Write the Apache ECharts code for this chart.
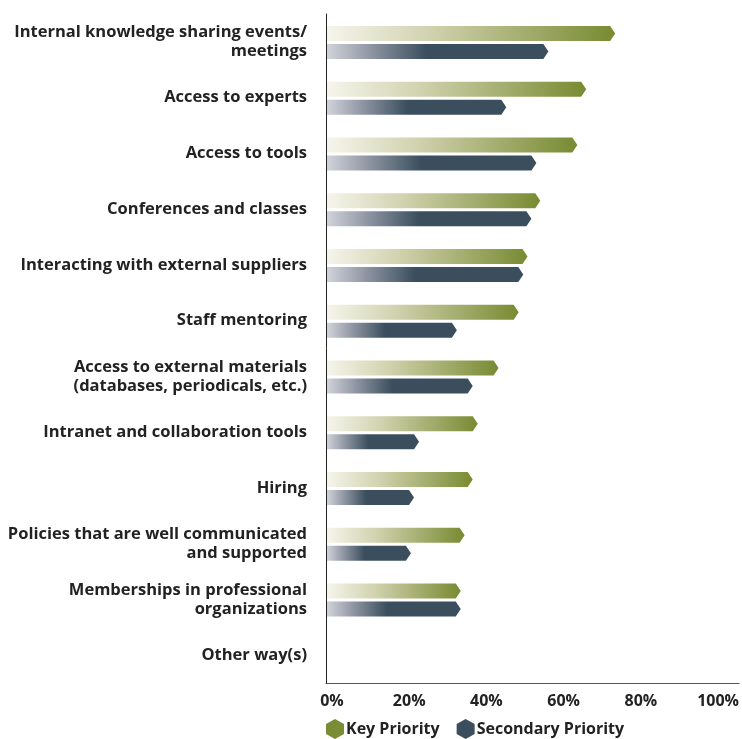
<!DOCTYPE html>
<html>
<head>
<meta charset="utf-8">
<script src="https://cdn.jsdelivr.net/npm/echarts@6/dist/echarts.min.js"></script>
<style>
  html, body { margin: 0; padding: 0; background: #fff; }
  #chart { width: 742px; height: 739px; }
</style>
</head>
<body>
<div id="chart"></div>
<script>
// categories, top to bottom
const categories = [
  "Internal knowledge sharing events/\nmeetings",
  "Access to experts",
  "Access to tools",
  "Conferences and classes",
  "Interacting with external suppliers",
  "Staff mentoring",
  "Access to external materials\n(databases, periodicals, etc.)",
  "Intranet and collaboration tools",
  "Hiring",
  "Policies that are well communicated\nand supported",
  "Memberships in professional\norganizations",
  "Other way(s)"
];
const keyPriority = [74.9, 67.4, 65.1, 55.5, 52.2, 49.9, 44.7, 39.3, 38.0, 35.9, 34.9, 0];
const secondaryPriority = [57.6, 46.7, 54.5, 53.2, 51.1, 33.9, 38.0, 24.1, 22.8, 22.0, 34.9, 0];
const xTicks = [0, 20, 40, 60, 80, 100];

const FONT = "'Open Sans', sans-serif";
const hexIcon = "path://M9,0 L18,5 L18,15 L9,20 L0,15 L0,5 Z";

function chevronBar(offsetTop, height, stops) {
  return function (params, api) {
    const v = api.value(1);
    if (!v) return null;
    const cat = api.value(0);
    const p0 = api.coord([0, cat]);
    const p1 = api.coord([v, cat]);
    const top = p0[1] + offsetTop;
    const bot = top + height;
    const mid = (top + bot) / 2;
    const x0 = p0[0] + 1, x1 = p1[0];
    return {
      type: "polygon",
      shape: {
        points: [[x0, top], [x1 - 5, top], [x1, mid], [x1 - 5, bot], [x0, bot]]
      },
      style: {
        fill: new echarts.graphic.LinearGradient(0, 0, 1, 0, stops)
      }
    };
  };
}

const myChart = echarts.init(document.getElementById("chart"));
myChart.setOption({
  animation: false,
  grid: { left: 326, right: 1, top: 14, bottom: 56 },
  legend: {
    left: 326,
    top: 719,
    padding: 0,
    itemWidth: 18,
    itemHeight: 20,
    itemGap: 17,
    icon: hexIcon,
    textStyle: { fontFamily: FONT, fontWeight: "bold", fontSize: 16, color: "#222", padding: [0, 0, 0, -3] },
    data: ["Key Priority", "Secondary Priority"]
  },
  xAxis: {
    type: "value",
    min: 0,
    max: 107,
    interval: 20,
    axisLine: { show: true, lineStyle: { color: "#555", width: 1 } },
    axisTick: { show: false },
    splitLine: { show: false },
    axisLabel: {
      showMaxLabel: false,
      margin: 10,
      padding: [0, 0, 0, 12],
      fontFamily: FONT,
      fontWeight: "bold",
      fontSize: 16,
      color: "#222",
      formatter: v => (xTicks.indexOf(v) >= 0 ? v + "%" : "")
    }
  },
  yAxis: {
    type: "category",
    data: categories,
    inverse: true,
    axisLine: { show: true, lineStyle: { color: "#222", width: 1 } },
    axisTick: { show: false },
    axisLabel: {
      margin: 19,
      fontFamily: FONT,
      fontWeight: "bold",
      fontSize: 16.5,
      lineHeight: 19,
      color: "#222",
      align: "right"
    }
  },
  series: [
    {
      name: "Key Priority",
      type: "custom",
      itemStyle: { color: "#7a8c35" },
      renderItem: chevronBar(-16, 15, [
        { offset: 0, color: "#f5f5ec" },
        { offset: 0.35, color: "#d2d3b0" },
        { offset: 1, color: "#788a31" }
      ]),
      encode: { x: 1, y: 0 },
      data: keyPriority.map((v, i) => [i, v])
    },
    {
      name: "Secondary Priority",
      type: "custom",
      itemStyle: { color: "#3a4e5d" },
      renderItem: chevronBar(2, 15, [
        { offset: 0, color: "#d2d3da" },
        { offset: 0.2, color: "#8e95a2" },
        { offset: 0.45, color: "#3a4e5d" },
        { offset: 1, color: "#3a4e5d" }
      ]),
      encode: { x: 1, y: 0 },
      data: secondaryPriority.map((v, i) => [i, v])
    }
  ]
});
</script>
</body>
</html>
